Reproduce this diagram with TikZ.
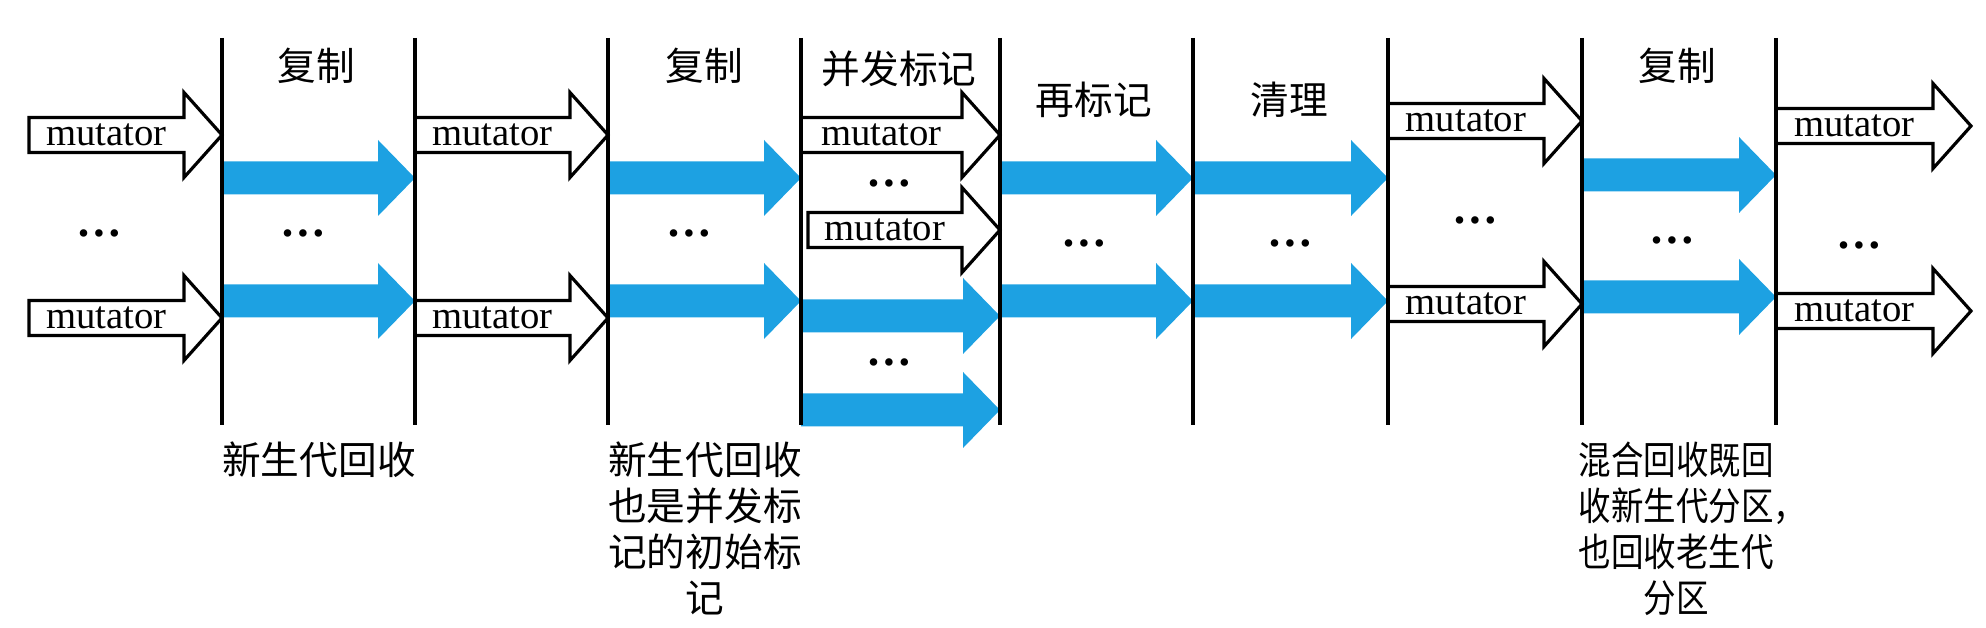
\documentclass[tikz,border=0pt]{standalone}
\usepackage{fontspec}
\setmainfont{Liberation Serif}
\newfontfamily\cjk{Noto Sans CJK SC}
\definecolor{gcblue}{RGB}{29,161,226}

% white block arrow with a mutator label: name, x start, x tip, y
\newcommand{\mutatorarrow}[4]{%
  \draw[mutline] (#2,#4-17.5) -- (#3-38,#4-17.5) -- (#3-38,#4-42.5) -- (#3,#4)
    -- (#3-38,#4+42.5) -- (#3-38,#4+17.5) -- (#2,#4+17.5) -- cycle;
  \node[mutlabel] (#1) at ({(#2+#3-38)/2},#4) {mutator};}

% blue block arrow of a gc thread: x start, x tip, y
\newcommand{\gcarrow}[3]{%
  \fill[gcfill] (#1,#3-16.5) -- (#2-37,#3-16.5) -- (#2-37,#3-38) -- (#2,#3)
    -- (#2-37,#3+38) -- (#2-37,#3+16.5) -- (#1,#3+16.5) -- cycle;}

\begin{document}
\begin{tikzpicture}[x=0.01cm, y=-0.01cm,
    phase/.style={line width=0.9pt},
    mutline/.style={draw=black, fill=white, line width=0.9pt, line join=miter},
    mutlabel/.style={inner sep=0pt, font=\fontsize{11}{13}\selectfont},
    gcfill/.style={fill=gcblue},
    stage/.style={inner sep=0pt, font=\cjk\fontsize{11}{13}\selectfont},
    note/.style={inner sep=0pt, align=center, font=\cjk\fontsize{11}{13.1}\selectfont},
    dots/.style={inner sep=0pt, font=\bfseries\fontsize{13}{15}\selectfont}]
		\useasboundingbox (0,0) rectangle (1986,628);
		
		% GC threads
		\gcarrow{222}{415}{178}
		\gcarrow{222}{415}{301}
		\gcarrow{608}{801}{178}
		\gcarrow{608}{801}{301}
		\gcarrow{801}{1000}{316}
		\gcarrow{801}{1000}{410}
		\gcarrow{1000}{1193}{178}
		\gcarrow{1000}{1193}{301}
		\gcarrow{1193}{1388}{178}
		\gcarrow{1193}{1388}{301}
		\gcarrow{1582}{1776}{175}
		\gcarrow{1582}{1776}{297}
		
		% Mutator threads
		\mutatorarrow{mut1}{29}{222}{135}
		\mutatorarrow{mut2}{29}{222}{318}
		\mutatorarrow{mut3}{415}{608}{135}
		\mutatorarrow{mut4}{415}{608}{318}
		\mutatorarrow{mut5}{801}{1000}{135}
		\mutatorarrow{mut6}{808}{1000}{230}
		\mutatorarrow{mut7}{1388}{1582}{121}
		\mutatorarrow{mut8}{1388}{1582}{304}
		\mutatorarrow{mut9}{1776}{1971}{126}
		\mutatorarrow{mut10}{1776}{1971}{311}
		
		% Phase borders
		\foreach \i/\x in {1/222, 2/415, 3/608, 4/801, 5/1000, 6/1193, 7/1388, 8/1582, 9/1776} {
			\coordinate (top\i) at (\x, 38);
			\coordinate (bot\i) at (\x, 425);
			\draw[phase] (top\i) -- (bot\i);
		}
		
		% Phase labels
		\node[stage] (copy1) at (316, 66) {复制};
		\node[stage] (copy2) at (704, 66) {复制};
		\node[stage] (cmark) at (899, 69) {并发标记};
		\node[stage] (remark) at (1094, 100) {再标记};
		\node[stage] (cleanup) at (1289, 100) {清理};
		\node[stage] (copy3) at (1677, 66) {复制};
		
		% Dots
		\node[dots] (dots0) at (99, 233) {…};
		\node[dots] (dots1) at (303, 233) {…};
		\node[dots] (dots2) at (689, 233) {…};
		\node[dots] (dots3) at (889, 183) {…};
		\node[dots] (dots4) at (889, 362) {…};
		\node[dots] (dots5) at (1084, 243) {…};
		\node[dots] (dots6) at (1290, 243) {…};
		\node[dots] (dots7) at (1475, 220) {…};
		\node[dots] (dots8) at (1672, 240) {…};
		\node[dots] (dots9) at (1859, 245) {…};
		
		% Notes below
		\node[note, anchor=north] (young1) at (319, 441) {新生代回收};
		\node[note, anchor=north] (young2) at (705, 441) {新生代回收\\也是并发标\\记的初始标\\记};
		\node[note, anchor=north, xscale=0.84, transform shape] (mixed) at (1676, 441) {混合回收既回\\收新生代分区\rlap{，}\\也回收老生代\\分区};
		
	\end{tikzpicture}
\end{document}
